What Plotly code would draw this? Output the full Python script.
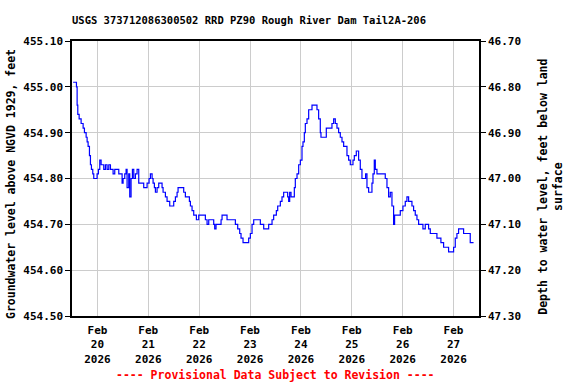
import plotly.graph_objects as go

# ---- data ----
times = [
    "2026-02-19 12:32", "2026-02-19 13:38", "2026-02-19 14:06", "2026-02-19 14:25", "2026-02-19 14:44",
    "2026-02-19 15:22", "2026-02-19 16:18", "2026-02-19 17:15", "2026-02-19 17:52", "2026-02-19 18:40",
    "2026-02-19 19:08", "2026-02-19 19:36", "2026-02-19 20:14", "2026-02-19 20:42", "2026-02-19 21:10",
    "2026-02-19 21:48", "2026-02-19 22:16", "2026-02-19 23:22", "2026-02-19 23:50", "2026-02-20 00:28",
    "2026-02-20 01:06", "2026-02-20 01:44", "2026-02-20 02:59", "2026-02-20 03:46", "2026-02-20 04:33",
    "2026-02-20 05:21", "2026-02-20 06:08", "2026-02-20 07:23", "2026-02-20 08:10", "2026-02-20 09:16",
    "2026-02-20 10:04", "2026-02-20 11:10", "2026-02-20 11:38", "2026-02-20 12:06", "2026-02-20 12:53",
    "2026-02-20 13:31", "2026-02-20 13:59", "2026-02-20 14:46", "2026-02-20 15:14", "2026-02-20 15:52",
    "2026-02-20 16:30", "2026-02-20 17:08", "2026-02-20 17:55", "2026-02-20 18:42", "2026-02-20 19:29",
    "2026-02-20 21:50", "2026-02-20 23:25", "2026-02-21 00:22", "2026-02-21 00:59", "2026-02-21 01:47",
    "2026-02-21 02:15", "2026-02-21 02:52", "2026-02-21 03:21", "2026-02-21 04:08", "2026-02-21 04:55",
    "2026-02-21 06:01", "2026-02-21 06:29", "2026-02-21 06:58", "2026-02-21 08:04", "2026-02-21 08:51",
    "2026-02-21 10:06", "2026-02-21 11:12", "2026-02-21 11:59", "2026-02-21 12:47", "2026-02-21 13:34",
    "2026-02-21 14:02", "2026-02-21 15:55", "2026-02-21 16:42", "2026-02-21 17:29", "2026-02-21 18:35",
    "2026-02-21 19:23", "2026-02-21 19:51", "2026-02-21 20:38", "2026-02-21 21:25", "2026-02-21 22:41",
    "2026-02-21 23:47", "2026-02-22 02:08", "2026-02-22 02:55", "2026-02-22 03:43", "2026-02-22 04:30",
    "2026-02-22 06:04", "2026-02-22 06:51", "2026-02-22 07:19", "2026-02-22 07:57", "2026-02-22 09:41",
    "2026-02-22 10:19", "2026-02-22 10:47", "2026-02-22 12:49", "2026-02-22 13:08", "2026-02-22 16:17",
    "2026-02-22 17:04", "2026-02-22 18:10", "2026-02-22 19:07", "2026-02-22 19:44", "2026-02-22 20:41",
    "2026-02-22 22:34", "2026-02-22 23:21", "2026-02-23 00:08", "2026-02-23 00:56", "2026-02-23 01:43",
    "2026-02-23 04:04", "2026-02-23 04:51", "2026-02-23 06:26", "2026-02-23 08:00", "2026-02-23 08:47",
    "2026-02-23 10:22", "2026-02-23 11:08", "2026-02-23 12:24", "2026-02-23 13:02", "2026-02-23 14:17",
    "2026-02-23 15:04", "2026-02-23 15:51", "2026-02-23 17:07", "2026-02-23 17:44", "2026-02-23 18:13",
    "2026-02-23 18:41", "2026-02-23 19:19", "2026-02-23 20:15", "2026-02-23 20:53", "2026-02-23 21:21",
    "2026-02-23 22:09", "2026-02-23 22:56", "2026-02-23 23:43", "2026-02-24 00:30", "2026-02-24 00:58",
    "2026-02-24 01:36", "2026-02-24 02:04", "2026-02-24 02:52", "2026-02-24 03:39", "2026-02-24 05:13",
    "2026-02-24 06:47", "2026-02-24 07:34", "2026-02-24 08:21", "2026-02-24 09:08", "2026-02-24 09:27",
    "2026-02-24 11:30", "2026-02-24 11:58", "2026-02-24 13:51", "2026-02-24 14:38", "2026-02-24 15:26",
    "2026-02-24 16:13", "2026-02-24 17:00", "2026-02-24 17:47", "2026-02-24 18:34", "2026-02-24 19:22",
    "2026-02-24 20:09", "2026-02-24 21:43", "2026-02-24 22:30", "2026-02-24 23:17", "2026-02-25 00:05",
    "2026-02-25 00:33", "2026-02-25 01:11", "2026-02-25 02:07", "2026-02-25 02:45", "2026-02-25 03:13",
    "2026-02-25 04:00", "2026-02-25 04:47", "2026-02-25 06:03", "2026-02-25 06:31", "2026-02-25 07:09",
    "2026-02-25 07:56", "2026-02-25 08:43", "2026-02-25 09:30", "2026-02-25 09:59", "2026-02-25 10:36",
    "2026-02-25 11:05", "2026-02-25 11:52", "2026-02-25 15:00", "2026-02-25 15:47", "2026-02-25 16:35",
    "2026-02-25 17:22", "2026-02-25 18:09", "2026-02-25 18:56", "2026-02-25 19:43", "2026-02-25 20:11",
    "2026-02-25 22:05", "2026-02-25 22:52", "2026-02-26 00:07", "2026-02-26 01:13", "2026-02-26 02:00",
    "2026-02-26 02:48", "2026-02-26 03:35", "2026-02-26 04:22", "2026-02-26 05:09", "2026-02-26 05:56",
    "2026-02-26 06:44", "2026-02-26 07:31", "2026-02-26 08:37", "2026-02-26 09:33", "2026-02-26 10:39",
    "2026-02-26 11:45", "2026-02-26 12:13", "2026-02-26 13:01", "2026-02-26 15:22", "2026-02-26 16:09",
    "2026-02-26 18:02", "2026-02-26 19:18", "2026-02-26 20:52", "2026-02-26 21:39", "2026-02-26 23:13",
    "2026-02-27 00:01", "2026-02-27 00:48", "2026-02-27 01:35", "2026-02-27 02:22", "2026-02-27 04:25",
    "2026-02-27 04:44", "2026-02-27 07:05", "2026-02-27 07:52", "2026-02-27 09:26",
]
levels = [
    455.01, 455.01, 455.00, 454.96, 454.94,
    454.93, 454.92, 454.91, 454.90, 454.89,
    454.88, 454.87, 454.85, 454.83, 454.82,
    454.81, 454.80, 454.80, 454.81, 454.82,
    454.84, 454.83, 454.82, 454.83, 454.82,
    454.83, 454.82, 454.81, 454.82, 454.82,
    454.81, 454.81, 454.79, 454.80, 454.81,
    454.82, 454.78, 454.81, 454.76, 454.80,
    454.82, 454.80, 454.81, 454.82, 454.79,
    454.78, 454.79, 454.80, 454.81, 454.80,
    454.79, 454.78, 454.77, 454.78, 454.79,
    454.79, 454.78, 454.77, 454.76, 454.75,
    454.74, 454.74, 454.75, 454.76, 454.77,
    454.78, 454.78, 454.77, 454.76, 454.76,
    454.75, 454.74, 454.73, 454.72, 454.71,
    454.72, 454.72, 454.71, 454.70, 454.71,
    454.71, 454.70, 454.69, 454.70, 454.70,
    454.71, 454.72, 454.72, 454.71, 454.71,
    454.70, 454.69, 454.68, 454.67, 454.66,
    454.66, 454.67, 454.68, 454.70, 454.71,
    454.71, 454.70, 454.69, 454.69, 454.70,
    454.71, 454.72, 454.73, 454.74, 454.75,
    454.76, 454.77, 454.77, 454.76, 454.75,
    454.77, 454.76, 454.76, 454.78, 454.80,
    454.81, 454.83, 454.84, 454.87, 454.88,
    454.90, 454.92, 454.93, 454.95, 454.96,
    454.96, 454.95, 454.93, 454.90, 454.89,
    454.89, 454.91, 454.91, 454.92, 454.93,
    454.92, 454.91, 454.90, 454.89, 454.88,
    454.87, 454.85, 454.84, 454.83, 454.83,
    454.84, 454.85, 454.86, 454.86, 454.84,
    454.82, 454.80, 454.80, 454.81, 454.78,
    454.77, 454.77, 454.79, 454.81, 454.84,
    454.82, 454.81, 454.81, 454.80, 454.78,
    454.76, 454.77, 454.74, 454.70, 454.72,
    454.72, 454.73, 454.74, 454.75, 454.76,
    454.75, 454.75, 454.74, 454.73, 454.72,
    454.71, 454.70, 454.70, 454.69, 454.70,
    454.70, 454.69, 454.68, 454.68, 454.67,
    454.66, 454.65, 454.65, 454.64, 454.64,
    454.65, 454.67, 454.68, 454.69, 454.69,
    454.68, 454.68, 454.66, 454.66,
]
DATUM_OFFSET = 501.80  # depth = offset - level
depths = [round(DATUM_OFFSET - v, 2) for v in levels]

tick_dates = ["2026-02-20", "2026-02-21", "2026-02-22", "2026-02-23",
              "2026-02-24", "2026-02-25", "2026-02-26", "2026-02-27"]
tick_labels = ["Feb<br>20<br>2026", "Feb<br>21<br>2026", "Feb<br>22<br>2026", "Feb<br>23<br>2026",
               "Feb<br>24<br>2026", "Feb<br>25<br>2026", "Feb<br>26<br>2026", "Feb<br>27<br>2026"]
left_ticks = [454.50, 454.60, 454.70, 454.80, 454.90, 455.00, 455.10]
right_ticks = [46.70, 46.80, 46.90, 47.00, 47.10, 47.20, 47.30]

title_text = "USGS 373712086300502 RRD PZ90 Rough River Dam Tail2A-206"
left_title = "Groundwater level above NGVD 1929, feet"
right_title = "Depth to water level, feet below land<br>surface"
footer = "---- Provisional Data Subject to Revision ----"

FONT = "DejaVu Sans Mono"

fig = go.Figure()
fig.add_trace(go.Scatter(x=times, y=levels, mode="lines", line_shape="hv",
                         line=dict(color="#0000FF", width=1.2), showlegend=False,
                         hoverinfo="skip"))
fig.add_trace(go.Scatter(x=times, y=depths, mode="lines", yaxis="y2",
                         line=dict(color="rgba(0,0,0,0)", width=0), showlegend=False,
                         hoverinfo="skip"))

axis_font = dict(family=FONT, size=11, color="black", weight="bold")

fig.update_layout(
    width=576, height=384,
    margin=dict(l=72, r=97, t=41, b=68),
    paper_bgcolor="white", plot_bgcolor="white",
    font=dict(family=FONT, size=11, color="black"),
    title=dict(text="<b>" + title_text + "</b>", x=249 / 576, xanchor="center",
               xref="container", y=1 - 20 / 384, yanchor="middle", yref="container",
               font=dict(family=FONT, size=10.5, color="black")),
    xaxis=dict(range=["2026-02-19 12:00", "2026-02-27 12:00"], tickvals=tick_dates,
               ticktext=tick_labels, tickfont=axis_font, showgrid=True,
               gridcolor="#cccccc", gridwidth=1, showline=True, linecolor="black",
               linewidth=1.5, mirror=True, ticks="", zeroline=False,
               ticklabelstandoff=3),
    yaxis=dict(range=[454.50, 455.10], tickvals=left_ticks,
               ticktext=["%.2f" % v for v in left_ticks], tickfont=axis_font,
               showgrid=True, gridcolor="#cccccc", gridwidth=1, showline=True,
               linecolor="black", linewidth=1.5, mirror=True, ticks="outside",
               ticklen=5, tickcolor="black", zeroline=False),
    yaxis2=dict(range=[47.30, 46.70], overlaying="y", side="right", tickvals=right_ticks,
                ticktext=["%.2f" % v for v in right_ticks], tickfont=axis_font,
                showgrid=False, showline=True, linecolor="black", linewidth=1.5,
                ticks="outside", ticklen=5, tickcolor="black", zeroline=False),
)

fig.add_annotation(text="<b>" + left_title + "</b>", textangle=-90, xref="paper", yref="paper",
                   x=-(72 - 11) / 407, y=0.48, xanchor="center", yanchor="middle",
                   showarrow=False, font=dict(family=FONT, size=11.5, color="black"))
fig.add_annotation(text="<b>" + right_title + "</b>", textangle=-90, xref="paper", yref="paper",
                   x=1 + (551 - 479) / 407, y=0.47, xanchor="center", yanchor="middle",
                   showarrow=False, font=dict(family=FONT, size=11.5, color="black"))
fig.add_annotation(text="<b>" + footer + "</b>", xref="paper", yref="paper",
                   x=0.5, y=-(375 - 316) / 275, xanchor="center", yanchor="middle",
                   showarrow=False, font=dict(family=FONT, size=11.5, color="red"))

fig.write_html("out.html", config={"displayModeBar": False},
               post_script="document.body.style.margin='0';document.body.style.overflow='hidden';")
